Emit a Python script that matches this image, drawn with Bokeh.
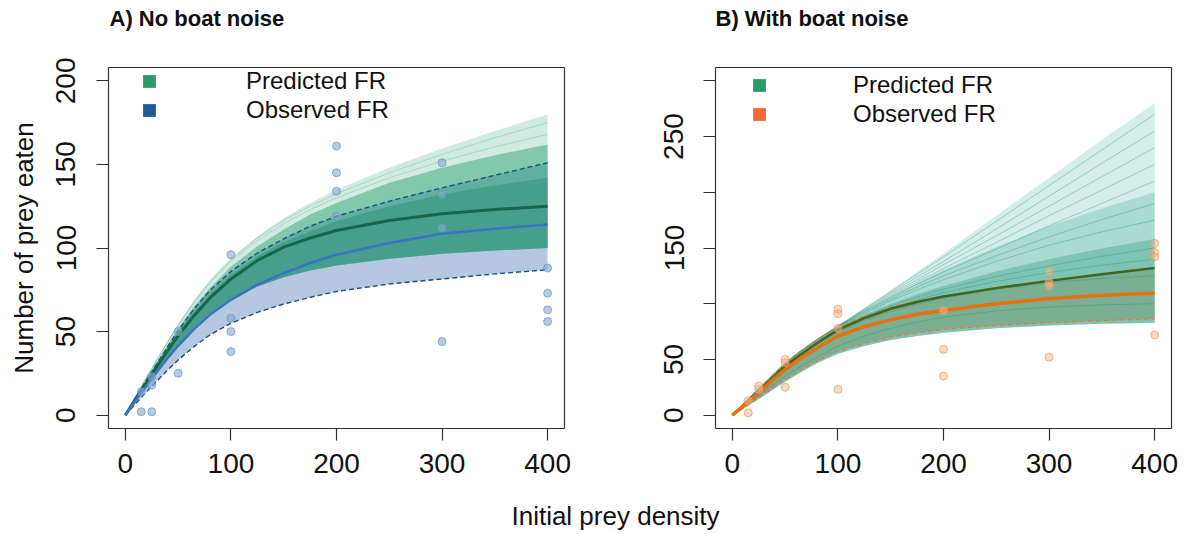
from bokeh.plotting import figure
from bokeh.layouts import row, column
from bokeh.models import (Range1d, FixedTicker, Legend, LegendItem, Label,
                          ColumnDataSource)
from bokeh.embed import file_html
from bokeh.resources import INLINE

FONT = "Liberation Sans"

# ---------------- data ----------------
prey_density = [0, 10, 20, 30, 40, 50, 65, 80, 100, 125, 150, 175, 200,
                250, 300, 350, 400]
x_ticks = [0, 100, 200, 300, 400]

# Panel A: no boat noise
a_obs_x = [15, 15, 25, 25, 25, 50, 50, 100, 100, 100, 100,
           200, 200, 200, 200, 300, 300, 300, 300, 400, 400, 400, 400]
a_obs_y = [2, 14, 2, 18, 23, 25, 50, 96, 58, 50, 38,
           161, 145, 134, 119, 151, 132, 112, 44, 88, 73, 63, 56]
a_obs_mean = [0, 9, 17.5, 26, 34, 41.5, 51.5, 60, 69, 78, 85, 91, 96,
              103, 108.5, 111.5, 114]
a_obs_ci_lo = [0, 7, 14, 20.5, 27, 33, 41, 48, 55, 61.5, 66.5, 70.5, 74,
               78.5, 81.5, 84.5, 87]
a_obs_ci_hi = [0, 10.5, 21, 31, 41, 50.5, 63.5, 74.5, 86, 97, 105.5, 113,
               119, 128, 136, 143.5, 151]
a_pred_mean = [0, 10, 19.5, 29, 38.5, 47.5, 59.5, 70, 81.5, 92.5, 100.5,
               106, 110.5, 116.5, 120.5, 123, 125]
a_pred_lo = [0, 8.5, 17, 25.5, 34, 42, 52.5, 61, 69.5, 77, 82.5, 86.5,
             89.5, 93.5, 96.5, 98.5, 100]
a_pred_core = [0, 10.5, 21, 31, 40.5, 49.5, 62, 72.5, 84, 95, 103.5, 110,
               116, 125, 132, 137.5, 142]
a_pred_dense = [0, 11, 22, 32, 42, 52, 65, 76, 89, 101, 111, 120, 127,
                139, 148, 155.5, 162]
a_pred_hi = [0, 11.5, 23, 33.5, 44.5, 54.5, 68.5, 80.5, 94, 107, 118, 127,
             135, 148, 159.5, 170, 180]
a_pred_samples = [
    [0, 11.5, 23, 33.5, 44, 54, 68, 80, 93, 106, 116.5, 125, 132.5, 145,
     156, 166, 175],
    [0, 11.5, 22.5, 33, 43.5, 53.5, 67, 79, 92, 104.5, 114.5, 123, 130,
     142, 152, 160.5, 168],
]
a_y_ticks = [0, 50, 100, 150, 200]

# Panel B: with boat noise
b_obs_x = [15, 15, 25, 25, 50, 50, 50, 100, 100, 100, 100,
           200, 200, 200, 300, 300, 300, 300, 400, 400, 400, 400]
b_obs_y = [2, 13, 23, 26, 50, 47, 25, 95, 91, 78, 23,
           94, 59, 35, 129, 119, 116, 52, 154, 146, 142, 72]
b_obs_mean = [0, 8, 16, 24.5, 33, 41, 51, 60, 71, 79.5, 85.5, 90.5, 94,
              100, 104.5, 107.5, 109.5]
b_obs_ci_lo = [0, 6, 12.5, 19, 25.5, 32, 40.5, 48.5, 57.5, 64.5, 70, 74,
               77, 80.5, 83, 85, 86.5]
b_obs_ci_hi = [0, 9, 18, 27.5, 37, 46, 57, 67, 79, 89, 97, 102.5, 107,
               114.5, 121, 126.5, 132]
b_pred_mean = [0, 8.5, 17, 26, 35, 44, 54.5, 64.5, 76.5, 87, 95.5, 101.5,
               106.5, 114, 120.5, 126.5, 132]
b_pred_lo = [0, 5.5, 11.5, 17.5, 24, 30, 38.5, 46.5, 55, 62, 67.5, 71, 74,
             78, 80.5, 82, 83]
b_pred_dense = [0, 9, 18, 27.5, 36.5, 45.5, 56.5, 66, 78, 90, 100, 108.5,
                116, 129, 140, 149.5, 158]
b_pred_mid = [0, 9.5, 19, 28, 37.5, 46.5, 57.5, 67.5, 79.5, 93, 106, 118.5,
              130, 151, 169.5, 185.5, 200]
b_pred_hi = [0, 9.5, 19, 28.5, 38, 47, 58, 68, 80, 96, 112, 128.5, 145,
             179, 213, 247, 280]
b_pred_samples = [
    [0, 9.5, 19, 28.5, 38, 47, 58, 68, 80, 95.5, 111, 126.5, 142, 174, 206,
     238, 270],
    [0, 9.5, 19, 28.5, 38, 47, 58, 68, 80, 95, 109.5, 124, 138, 167, 196.5,
     226, 255],
    [0, 9.5, 19, 28.5, 37.5, 46.5, 57.5, 67.5, 79.5, 94, 108, 121.5, 135,
     161, 187.5, 214, 240],
    [0, 9.5, 19, 28, 37.5, 46.5, 57.5, 67.5, 79.5, 93.5, 106.5, 119.5,
     131.5, 155, 179, 202, 225],
    [0, 9.5, 19, 28, 37.5, 46.5, 57.5, 67.5, 79.5, 93, 105.5, 117.5, 128.5,
     149, 170, 190, 210],
    [0, 9.5, 19, 28, 37.5, 46.5, 57.5, 67, 79, 92, 104, 115, 125, 143, 160,
     175.5, 190],
    [0, 9.5, 18.5, 28, 37, 46, 57, 67, 78.5, 91, 102.5, 112.5, 121.5, 138,
     152.5, 164.5, 175],
    [0, 9, 18, 27.5, 36.5, 45.5, 56, 65.5, 77, 88.5, 98, 106, 113, 124.5,
     134, 142.5, 150],
    [0, 9, 18, 27, 36, 45, 55.5, 65, 76, 87, 96, 103.5, 110, 120, 128,
     134.5, 140],
    [0, 8.5, 17, 26, 35, 43.5, 54, 63.5, 74.5, 85, 93, 99.5, 105, 113, 119,
     122.5, 125],
    [0, 7, 14, 21, 28, 35, 44, 52, 62, 71, 78, 83.5, 88, 93.5, 97, 99, 100],
]
b_y_ticks = [0, 50, 100, 150, 200, 250, 300]
b_y_labels = {100: "", 200: "", 300: ""}

titles = ["A) No boat noise", "B) With boat noise"]
legend_labels = ["Predicted FR", "Observed FR"]

# ---------------- colours ----------------
PRED = "#1f9d6c"
PRED_LEG = "#2a9c6c"
BLUE_LEG = "#1b5c99"
ORANGE_LEG = "#ee6b2f"


def style(p, yticks, label_standoff):
    p.outline_line_color = "#333333"
    p.outline_line_width = 1.2
    p.xgrid.visible = False
    p.ygrid.visible = False
    for ax in (p.xaxis[0], p.yaxis[0]):
        ax.axis_line_color = None
        ax.major_tick_out = 12
        ax.major_tick_in = 0
        ax.major_tick_line_color = "#333333"
        ax.major_tick_line_width = 1.2
        ax.minor_tick_line_color = None
        ax.major_label_text_font = FONT
        ax.major_label_text_font_size = "28px"
        ax.major_label_text_color = "#111111"
    p.xaxis.ticker = FixedTicker(ticks=x_ticks)
    p.xaxis.major_label_standoff = 13
    p.yaxis.ticker = FixedTicker(ticks=yticks)
    p.yaxis.major_label_orientation = "vertical"
    p.yaxis.major_label_standoff = label_standoff


def add_legend(p, obs_color, x, y1, y2, standoff):
    # dummy renderers (outside the visible range) that carry the legend colours
    src = ColumnDataSource(dict(x=[-100, -99], y1=[-100, -100], y2=[-99, -99]))
    r1 = p.varea(x="x", y1="y1", y2="y2", source=src, fill_color=PRED_LEG)
    r2 = p.varea(x="x", y1="y1", y2="y2", source=src, fill_color=obs_color)
    for r, lab, yy in ((r1, legend_labels[0], y1), (r2, legend_labels[1], y2)):
        leg = Legend(items=[LegendItem(label=lab, renderers=[r])],
                     location=(x, yy), glyph_width=16, glyph_height=16,
                     label_standoff=standoff, label_text_font=FONT,
                     label_text_font_size="24px", label_text_color="#111111",
                     padding=0, margin=0, spacing=0, label_height=24,
                     border_line_color=None, background_fill_alpha=0)
        p.add_layout(leg)


# ---------------- title strip ----------------
pT = figure(width=1178, height=34, x_range=Range1d(0, 1178),
            y_range=Range1d(0, 34), output_backend="svg",
            toolbar_location=None, min_border=0,
            x_axis_location=None, y_axis_location=None)
pT.outline_line_color = None
pT.xgrid.visible = False
pT.ygrid.visible = False
for tx, ttxt in ((109, titles[0]), (715, titles[1])):
    pT.add_layout(Label(x=tx, y=16, text=ttxt, text_align="left",
                        text_baseline="middle", text_font=FONT,
                        text_font_size="22px", text_font_style="bold",
                        text_color="#111111"))

# ---------------- Panel A ----------------
pA = figure(frame_width=456, frame_height=361,
            x_range=Range1d(-16, 416), y_range=Range1d(-8, 208),
            output_backend="svg", toolbar_location=None,
            min_border_left=108, min_border_right=76,
            min_border_top=33, min_border_bottom=60)
style(pA, a_y_ticks, 21)
pA.yaxis.axis_label = "Number of prey eaten"
pA.yaxis.axis_label_text_font = FONT
pA.yaxis.axis_label_text_font_size = "26px"
pA.yaxis.axis_label_text_font_style = "normal"
pA.yaxis.axis_label_text_color = "#111111"
pA.yaxis.axis_label_standoff = 15

pA.varea(x=prey_density, y1=a_obs_ci_lo, y2=a_obs_ci_hi,
         fill_color="#adc2dd", fill_alpha=0.9)
pA.varea(x=prey_density, y1=a_pred_lo, y2=a_pred_hi,
         fill_color=PRED, fill_alpha=0.2)
pA.varea(x=prey_density, y1=a_pred_lo, y2=a_pred_dense,
         fill_color=PRED, fill_alpha=0.45)
pA.varea(x=prey_density, y1=a_pred_lo, y2=a_pred_core,
         fill_color="#17806a", fill_alpha=0.35)
pA.multi_line(xs=[prey_density] * len(a_pred_samples), ys=a_pred_samples,
              line_color=PRED, line_alpha=0.25, line_width=1)
pA.line(prey_density, a_obs_ci_lo, line_color="#1f4f7f", line_width=1.4,
        line_dash="5 3")
pA.line(prey_density, a_obs_ci_hi, line_color="#1f4f7f", line_width=1.4,
        line_dash="5 3")
pA.line(prey_density, a_pred_mean, line_color="#16664a", line_width=3,
        line_join="round")
pA.line(prey_density, a_obs_mean, line_color="#3b73c4", line_width=2.5,
        line_join="round")
pA.scatter(a_obs_x, a_obs_y, size=8, fill_color="#86a9cf", fill_alpha=0.6,
           line_color="#6a95c2", line_alpha=0.7)
add_legend(pA, BLUE_LEG, 33, 332.7, 303.7, 89)

# ---------------- Panel B ----------------
pB = figure(frame_width=456, frame_height=361,
            x_range=Range1d(-16, 416), y_range=Range1d(-12, 312),
            output_backend="svg", toolbar_location=None,
            min_border_left=75, min_border_right=7,
            min_border_top=33, min_border_bottom=60)
style(pB, b_y_ticks, 20)
pB.yaxis.major_label_overrides = b_y_labels

pB.varea(x=prey_density, y1=b_obs_ci_lo, y2=b_obs_ci_hi,
         fill_color="#f0a070", fill_alpha=0.55)
pB.varea(x=prey_density, y1=b_pred_lo, y2=b_pred_hi,
         fill_color="#2fa58a", fill_alpha=0.2)
pB.varea(x=prey_density, y1=b_pred_lo, y2=b_pred_mid,
         fill_color="#2fa58a", fill_alpha=0.25)
pB.varea(x=prey_density, y1=b_pred_lo, y2=b_pred_dense,
         fill_color="#2a9a7a", fill_alpha=0.35)
pB.multi_line(xs=[prey_density] * len(b_pred_samples), ys=b_pred_samples,
              line_color="#1f8f74", line_alpha=0.35, line_width=1)
pB.line(prey_density, b_obs_ci_lo, line_color="#e07a4a", line_width=1.4,
        line_dash="5 3")
pB.line(prey_density, b_obs_ci_hi, line_color="#e07a4a", line_width=1.4,
        line_dash="5 3")
pB.line(prey_density, b_pred_mean, line_color="#3b6a1e", line_width=2.5,
        line_join="round")
pB.line(prey_density, b_obs_mean, line_color="#e8700f", line_width=3.5,
        line_join="round")
pB.scatter(b_obs_x, b_obs_y, size=8, fill_color="#f4b48a", fill_alpha=0.5,
           line_color="#e89a60", line_alpha=0.7)
add_legend(pB, ORANGE_LEG, 36, 329.2, 300.2, 86)

# ---------------- shared x label ----------------
pC = figure(width=1178, height=44, x_range=Range1d(0, 1178),
            y_range=Range1d(0, 44), output_backend="svg",
            toolbar_location=None, min_border=0,
            x_axis_location=None, y_axis_location=None)
pC.outline_line_color = None
pC.xgrid.visible = False
pC.ygrid.visible = False
pC.add_layout(Label(x=615, y=17, text="Initial prey density",
                    text_align="center", text_baseline="middle",
                    text_font=FONT, text_font_size="26px",
                    text_color="#111111"))

layout = column(pT, row(pA, pB), pC)
open("out.html", "w").write(file_html(layout, INLINE))
